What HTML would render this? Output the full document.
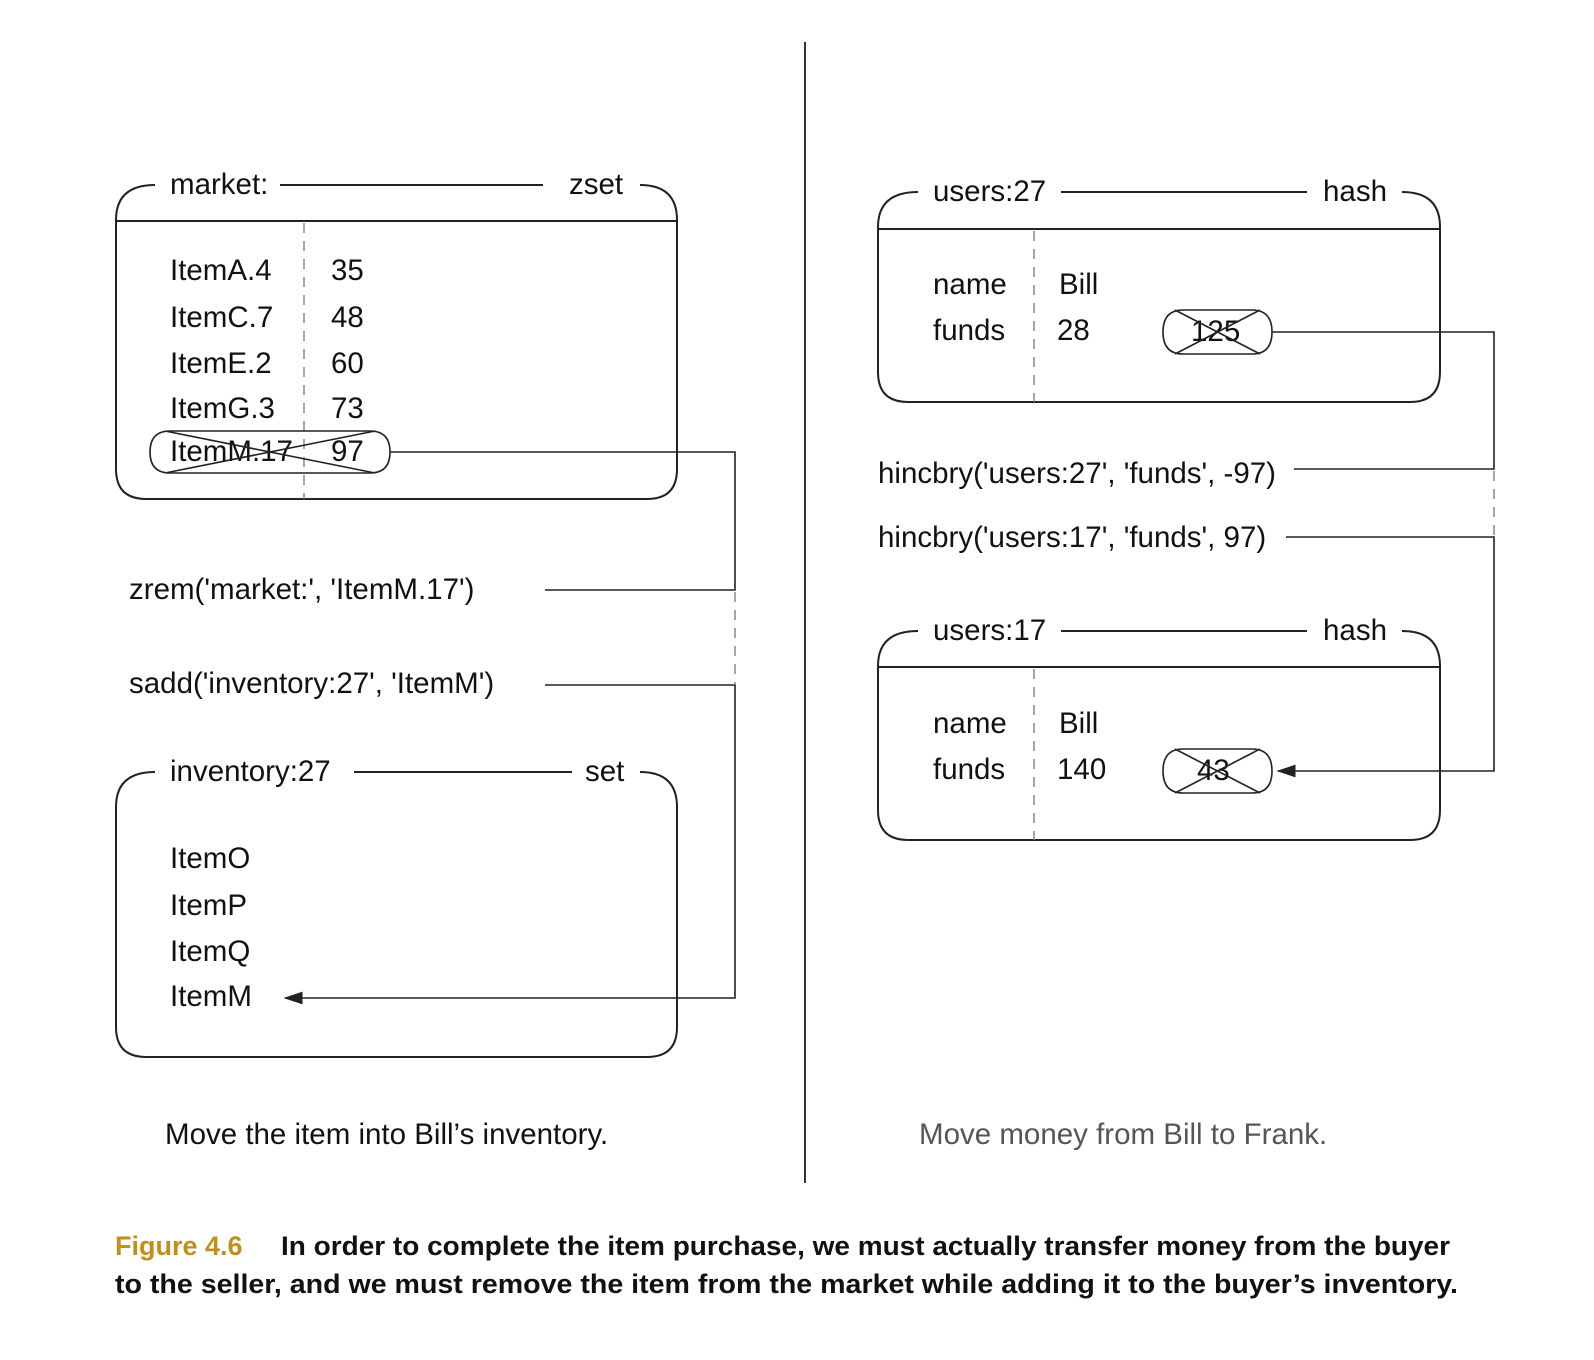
<!DOCTYPE html>
<html><head><meta charset="utf-8"><style>
html,body{margin:0;padding:0;background:#fff;}
svg{display:block;}
text{font-family:"Liberation Sans",Arial,sans-serif;fill:#111;}
.t{font-size:29.5px;}
.b{stroke:#222;stroke-width:2;fill:none;}
.d{stroke:#888;stroke-width:1.5;stroke-dasharray:10,8;fill:none;}
.l{stroke:#222;stroke-width:1.6;fill:none;}
.cap{font-size:27px;font-weight:bold;}
</style></head><body>
<svg width="1594" height="1360" viewBox="0 0 1594 1360">
<defs><marker id="ar" markerWidth="12" markerHeight="8" refX="11" refY="4" orient="auto"><path d="M0,0 L12,4 L0,8 z" fill="#222"/></marker></defs>
<line x1="805" y1="42" x2="805" y2="1183" stroke="#333" stroke-width="2"/>

<g>
<path class="b" d="M155,185 Q116,185 116,220 V469 Q116,499 146,499 H647 Q677,499 677,469 V220 Q677,185 640,185"/>
<line class="b" x1="280" y1="185" x2="543" y2="185"/>
<line class="b" x1="116" y1="221" x2="677" y2="221"/>
<line class="d" x1="304" y1="223" x2="304" y2="499"/>
<text class="t" x="170" y="194">market:</text><text class="t" x="569" y="194">zset</text>
<text class="t" x="170" y="280">ItemA.4</text><text class="t" x="331" y="280">35</text>
<text class="t" x="170" y="327">ItemC.7</text><text class="t" x="331" y="327">48</text>
<text class="t" x="170" y="373">ItemE.2</text><text class="t" x="331" y="373">60</text>
<text class="t" x="170" y="418">ItemG.3</text><text class="t" x="331" y="418">73</text>
<text class="t" x="170" y="461">ItemM.17</text><text class="t" x="331" y="461">97</text>
<path class="l" d="M170,431 H370 Q390,431 390,452 Q390,473 370,473 H170 Q150,473 150,452 Q150,431 170,431 Z"/>
<line class="l" x1="165" y1="431" x2="375" y2="473"/><line class="l" x1="165" y1="473" x2="375" y2="431"/>
</g>

<g>
<path class="b" d="M155,772 Q116,772 116,807 V1027 Q116,1057 146,1057 H647 Q677,1057 677,1027 V807 Q677,772 640,772"/>
<line class="b" x1="354" y1="772" x2="572" y2="772"/>
<text class="t" x="170" y="781">inventory:27</text><text class="t" x="585" y="781">set</text>
<text class="t" x="170" y="868">ItemO</text>
<text class="t" x="170" y="915">ItemP</text>
<text class="t" x="170" y="961">ItemQ</text>
<text class="t" x="170" y="1006">ItemM</text>
</g>

<g>
<path class="l" d="M390,452 H735 V590 H545"/>
<line class="d" x1="735" y1="592" x2="735" y2="684"/>
<path class="l" d="M545,685 H735 V998 H285" marker-end="url(#ar)"/>
<text class="t" x="129" y="599">zrem('market:', 'ItemM.17')</text>
<text class="t" x="129" y="693">sadd('inventory:27', 'ItemM')</text>
</g>

<g>
<path class="b" d="M918,192 Q878,192 878,227 V372 Q878,402 908,402 H1410 Q1440,402 1440,372 V227 Q1440,192 1402,192"/>
<line class="b" x1="1061" y1="192" x2="1307" y2="192"/>
<line class="b" x1="878" y1="229" x2="1440" y2="229"/>
<line class="d" x1="1034" y1="231" x2="1034" y2="402"/>
<text class="t" x="933" y="201">users:27</text><text class="t" x="1323" y="201">hash</text>
<text class="t" x="933" y="294">name</text><text class="t" x="1059" y="294">Bill</text>
<text class="t" x="933" y="340">funds</text><text class="t" x="1057" y="340">28</text>
<text class="t" x="1191" y="341">125</text>
<path class="l" d="M1183,310 H1252 Q1272,310 1272,332 Q1272,354 1252,354 H1183 Q1163,354 1163,332 Q1163,310 1183,310 Z"/>
<line class="l" x1="1175" y1="310" x2="1260" y2="354"/><line class="l" x1="1175" y1="354" x2="1260" y2="310"/>
</g>

<g>
<path class="b" d="M918,631 Q878,631 878,666 V810 Q878,840 908,840 H1410 Q1440,840 1440,810 V666 Q1440,631 1402,631"/>
<line class="b" x1="1061" y1="631" x2="1307" y2="631"/>
<line class="b" x1="878" y1="667" x2="1440" y2="667"/>
<line class="d" x1="1034" y1="669" x2="1034" y2="840"/>
<text class="t" x="933" y="640">users:17</text><text class="t" x="1323" y="640">hash</text>
<text class="t" x="933" y="733">name</text><text class="t" x="1059" y="733">Bill</text>
<text class="t" x="933" y="779">funds</text><text class="t" x="1057" y="779">140</text>
<text class="t" x="1197" y="780">43</text>
<path class="l" d="M1183,749 H1252 Q1272,749 1272,771 Q1272,793 1252,793 H1183 Q1163,793 1163,771 Q1163,749 1183,749 Z"/>
<line class="l" x1="1175" y1="749" x2="1260" y2="793"/><line class="l" x1="1175" y1="793" x2="1260" y2="749"/>
</g>

<g>
<path class="l" d="M1272,332 H1494 V469 H1294"/>
<line class="d" x1="1494" y1="471" x2="1494" y2="536"/>
<path class="l" d="M1286,537 H1494 V771 H1278" marker-end="url(#ar)"/>
<text class="t" x="878" y="483">hincbry('users:27', 'funds', -97)</text>
<text class="t" x="878" y="547">hincbry('users:17', 'funds', 97)</text>
</g>

<text class="t" x="165" y="1144">Move the item into Bill’s inventory.</text>
<text class="t" x="919" y="1144" style="fill:#555">Move money from Bill to Frank.</text>

<g>
<text class="cap" x="115" y="1255" style="fill:#c0901a">Figure 4.6</text>
<text class="cap" x="281" y="1255" textLength="1169" lengthAdjust="spacingAndGlyphs">In order to complete the item purchase, we must actually transfer money from the buyer</text>
<text class="cap" x="115" y="1293" textLength="1343" lengthAdjust="spacingAndGlyphs">to the seller, and we must remove the item from the market while adding it to the buyer’s inventory.</text>
</g>
</svg>
</body></html>
